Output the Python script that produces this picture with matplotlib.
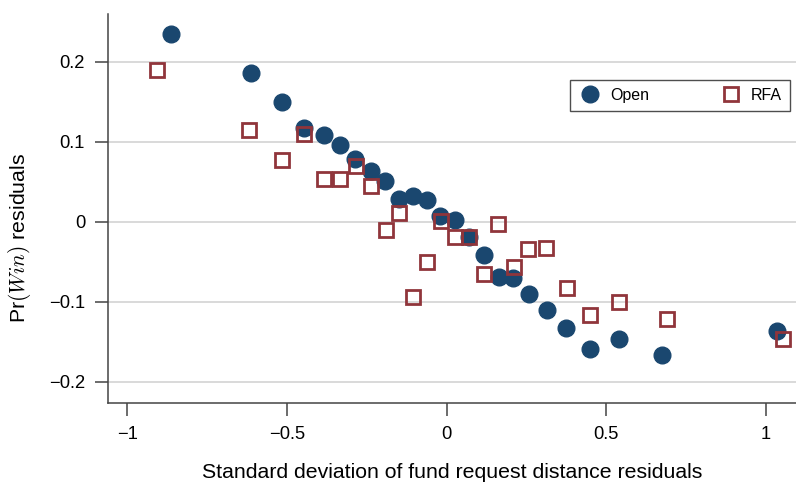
import numpy as np
import matplotlib.pyplot as plt

plt.rcParams['font.family'] = ['Liberation Sans', 'DejaVu Sans']
plt.rcParams['mathtext.fontset'] = 'cm'

# Open group: binned residuals
open_x = [-0.863, -0.612, -0.515, -0.446, -0.384, -0.334, -0.287, -0.237, -0.193,
          -0.149, -0.105, -0.062, -0.021, 0.026, 0.070, 0.117, 0.164, 0.207,
          0.257, 0.314, 0.373, 0.449, 0.540, 0.675, 1.034]
open_y = [0.235, 0.186, 0.150, 0.117, 0.108, 0.096, 0.078, 0.063, 0.051,
          0.028, 0.032, 0.027, 0.007, 0.002, -0.019, -0.042, -0.069, -0.070,
          -0.090, -0.110, -0.133, -0.159, -0.147, -0.167, -0.137]

# RFA group
rfa_x = [-0.906, -0.618, -0.516, -0.446, -0.384, -0.334, -0.284, -0.236, -0.190,
         -0.148, -0.105, -0.061, -0.019, 0.025, 0.071, 0.117, 0.162, 0.212,
         0.255, 0.312, 0.377, 0.449, 0.540, 0.690, 1.054]
rfa_y = [0.190, 0.115, 0.077, 0.110, 0.053, 0.053, 0.070, 0.044, -0.010,
         0.011, -0.094, -0.050, 0.001, -0.019, -0.019, -0.065, -0.003, -0.057,
         -0.034, -0.033, -0.083, -0.117, -0.100, -0.121, -0.147]

xticks = [-1, -0.5, 0, 0.5, 1]
yticks = [-0.2, -0.1, 0, 0.1, 0.2]

navy = '#1a476f'
maroon = '#90353b'

fig = plt.figure(figsize=(7.96, 4.82), dpi=100)
ax = fig.add_axes([0.1357, 0.1639, 0.8643, 0.8071])

ax.plot(open_x, open_y, 'o', ms=12, color=navy, mec=navy, label='Open', zorder=3)
ax.plot(rfa_x, rfa_y, 's', ms=9.8, mfc='none', mec=maroon, mew=2.0, label='RFA', zorder=3)

ax.set_xlim(-1.06, 1.094)
ax.set_ylim(-0.2265, 0.2595)
ax.set_xticks(xticks)
ax.set_xticklabels(['\u22121', '\u22120.5', '0', '0.5', '1'])
ax.set_yticks(yticks)
ax.set_yticklabels(['\u22120.2', '\u22120.1', '0', '0.1', '0.2'])

ax.grid(axis='y', color='#d9d9d9', lw=1.4)
ax.set_axisbelow(True)
ax.spines['top'].set_visible(False)
ax.spines['right'].set_visible(False)
for s in ['left', 'bottom']:
    ax.spines[s].set_color('#444444')
    ax.spines[s].set_linewidth(1.1)
ax.tick_params(length=9.5, width=1.1, color='#444444', labelsize=13.2, pad=7)

ax.set_xlabel('Standard deviation of fund request distance residuals', fontsize=15.3)
ax.xaxis.set_label_coords(0.5, -0.154)
ax.set_ylabel(r'Pr$(\mathit{Win})$ residuals', fontsize=15.3)
ax.yaxis.set_label_coords(-0.109, 0.424)

leg = ax.legend(ncol=2, loc='upper left', bbox_to_anchor=(0.6715, 0.8303, 0.3195, 0.0),
                mode='expand', borderaxespad=0, fancybox=False, edgecolor='#222222',
                fontsize=11.5, handlelength=1.5, handletextpad=0.5, borderpad=0.5)
leg.get_frame().set_linewidth(1.0)

fig.savefig('out.png', dpi=100)
